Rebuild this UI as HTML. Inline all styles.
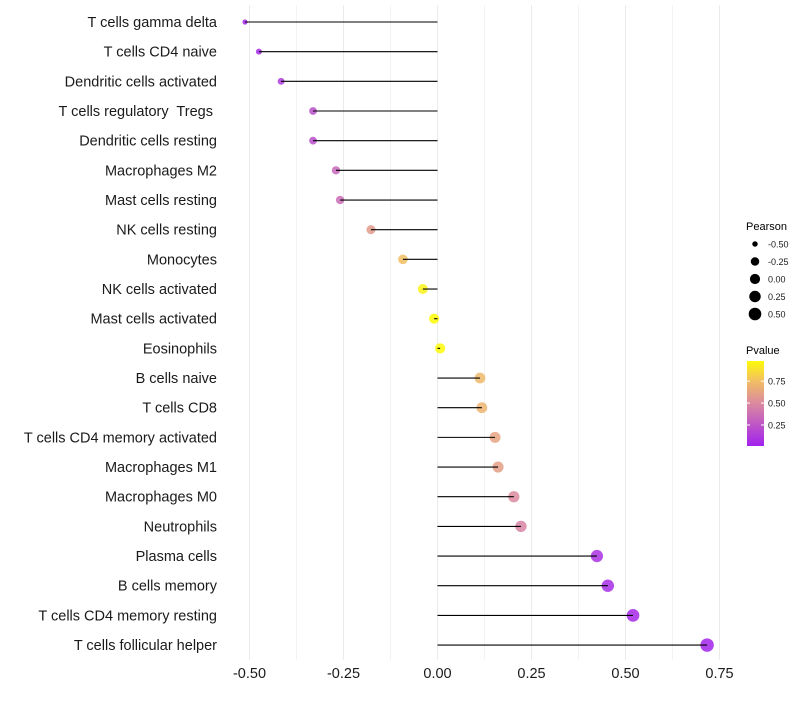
<!DOCTYPE html>
<html><head><meta charset="utf-8"><style>
body{margin:0;background:#fff;font-family:"Liberation Sans",sans-serif}
</style></head><body>
<svg id="chart" width="800" height="700" xmlns="http://www.w3.org/2000/svg"></svg>
<script>
const categories=["T cells gamma delta","T cells CD4 naive","Dendritic cells activated","T cells regulatory  Tregs ","Dendritic cells resting","Macrophages M2","Mast cells resting","NK cells resting","Monocytes","NK cells activated","Mast cells activated","Eosinophils","B cells naive","T cells CD8","T cells CD4 memory activated","Macrophages M1","Macrophages M0","Neutrophils","Plasma cells","B cells memory","T cells CD4 memory resting","T cells follicular helper"];
const pearson=[-0.512,-0.475,-0.416,-0.331,-0.331,-0.27,-0.259,-0.177,-0.092,-0.039,-0.009,0.007,0.113,0.118,0.153,0.161,0.203,0.222,0.424,0.453,0.52,0.717];
const pvalue=[0.03,0.05,0.12,0.22,0.22,0.33,0.36,0.58,0.75,0.95,0.98,0.98,0.72,0.7,0.62,0.6,0.5,0.47,0.08,0.06,0.04,0.02];
const xTicks=[-0.5,-0.25,0,0.25,0.5,0.75];
const xTickLabels=["-0.50","-0.25","0.00","0.25","0.50","0.75"];
const sizeLegend=[-0.5,-0.25,0,0.25,0.5];
const sizeLegendLabels=["-0.50","-0.25","0.00","0.25","0.50"];
const pTicks=[0.25,0.5,0.75];
const pTickLabels=["0.25","0.50","0.75"];

const NS="http://www.w3.org/2000/svg";
const svg=document.getElementById("chart");
const x=v=>437.5+v*376;
const y=i=>22+i*29.67;
const r=v=>2+4.3*Math.sqrt(Math.max(0,(v+0.53)/1.03));
const stops=[[0,[160,32,240]],[0.5,[219,138,158]],[0.75,[242,190,100]],[1,[255,255,0]]];
function col(p){for(let k=1;k<stops.length;k++){if(p<=stops[k][0]){const a=stops[k-1],b=stops[k],t=(p-a[0])/(b[0]-a[0]);return "rgb("+a[1].map((c,j)=>Math.round(c+(b[1][j]-c)*t)).join(",")+")";}}return "rgb(255,255,0)";}
const py=p=>446-(p-0.01)/0.97*85;
function el(t,a,txt){const e=document.createElementNS(NS,t);for(const k in a)e.setAttribute(k,a[k]);if(txt!==undefined)e.textContent=txt;svg.appendChild(e);return e;}

for(let v=-0.5;v<=0.751;v+=0.125){const major=Math.abs(v*4-Math.round(v*4))<0.01;const g=el("line",{x1:x(v),x2:x(v),y1:5,y2:660,stroke:major?"#ebebeb":"#f3f3f3","stroke-width":1});

}

categories.forEach((c,i)=>{
 const t=el("text",{x:217,y:y(i)+5,"text-anchor":"end","font-size":14.5,fill:"#1a1a1a",style:"white-space:pre"},c);
 
 
 const pt=el("circle",{cx:x(pearson[i]),cy:y(i),r:r(pearson[i]),fill:col(pvalue[i]),"fill-opacity":0.85});
 
 
 const ln=el("line",{x1:x(0),x2:x(pearson[i]),y1:y(i),y2:y(i),stroke:"#000","stroke-width":1.1});
 
 
});
xTicks.forEach((v,i)=>{const t=el("text",{x:x(v),y:678,"text-anchor":"middle","font-size":14.5,fill:"#1a1a1a"},xTickLabels[i]);

});

const lt=el("text",{x:746,y:230,"font-size":11,fill:"#000"},"Pearson");


sizeLegend.forEach((v,i)=>{const cy=244+i*17.5;
 const c=el("circle",{cx:755,cy:cy,r:r(v),fill:"#000"});
 
 
 const t=el("text",{x:768,y:cy+3.5,"font-size":9,fill:"#1a1a1a"},sizeLegendLabels[i]);
 
 });

const pt2=el("text",{x:746,y:354,"font-size":11,fill:"#000"},"Pvalue");


const defs=el("defs",{});
const lg=document.createElementNS(NS,"linearGradient");lg.setAttribute("id","pg");lg.setAttribute("x1","0");lg.setAttribute("y1","1");lg.setAttribute("x2","0");lg.setAttribute("y2","0");defs.appendChild(lg);
for(let k=0;k<=20;k++){const p=0.01+k/20*0.97;const s=document.createElementNS(NS,"stop");s.setAttribute("offset",k/20);s.setAttribute("stop-color",col(p));lg.appendChild(s);}
const bar=el("rect",{x:747,y:361,width:17,height:85,fill:"url(#pg)"});


pTicks.forEach((p,i)=>{el("line",{x1:747,x2:750,y1:py(p),y2:py(p),stroke:"#fff"});el("line",{x1:761,x2:764,y1:py(p),y2:py(p),stroke:"#fff"});
 const t=el("text",{x:768,y:py(p)+3.5,"font-size":9,fill:"#1a1a1a"},pTickLabels[i]);
 
 });
</script>
</body></html>
